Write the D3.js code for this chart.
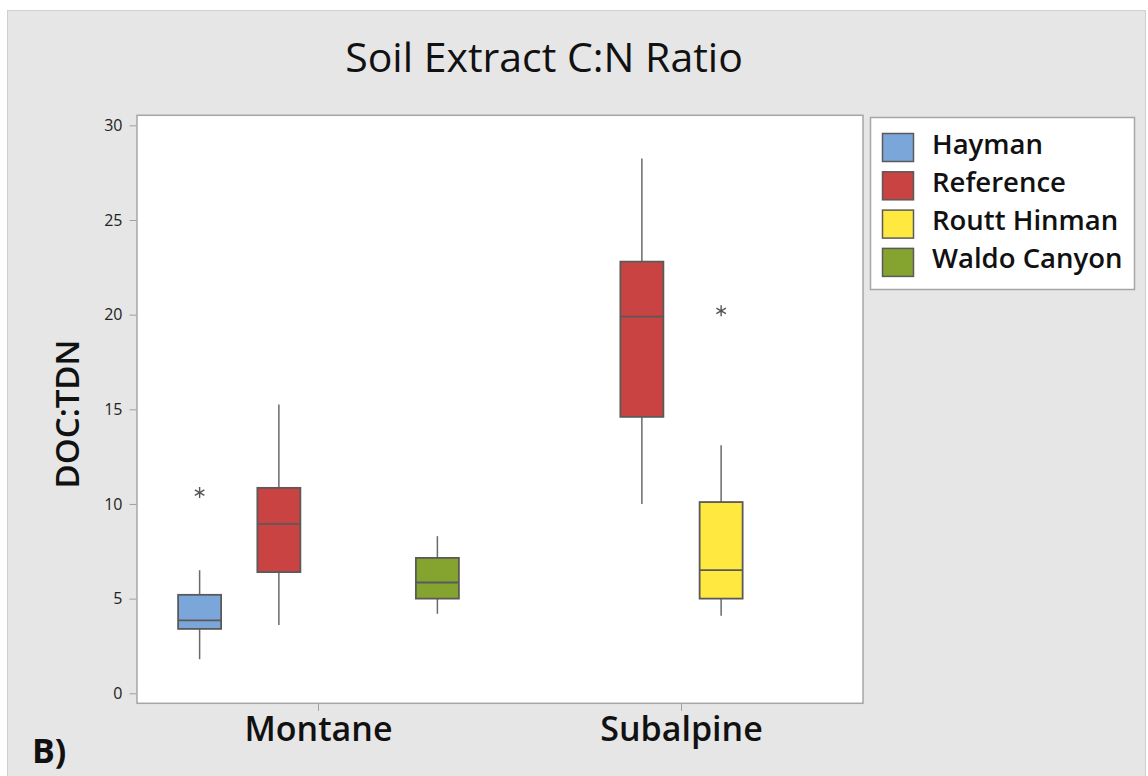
<!DOCTYPE html>
<html>
<head>
<meta charset="utf-8">
<script src="https://cdn.jsdelivr.net/npm/d3@7"></script>
<style>
body { margin: 0; background: #ffffff; }
</style>
</head>
<body>
<div id="chart"></div>
<script>
// data
var sites = ["Montane", "Subalpine"];
var series = ["Hayman", "Reference", "Routt Hinman", "Waldo Canyon"];
var seriesColor = ["#7ba6da", "#c94343", "#ffe840", "#84a32f"];
var yTicks = [0, 5, 10, 15, 20, 25, 30];

var boxSite = ["Montane", "Montane", "Montane", "Subalpine", "Subalpine"];
var boxSeries = ["Hayman", "Reference", "Waldo Canyon", "Reference", "Routt Hinman"];
var whiskerLow = [1.8, 3.6, 4.2, 10.0, 4.1];
var q1 = [3.4, 6.4, 5.0, 14.6, 5.0];
var median = [3.85, 8.95, 5.85, 19.9, 6.5];
var q3 = [5.2, 10.85, 7.15, 22.8, 10.1];
var whiskerHigh = [6.5, 15.25, 8.3, 28.25, 13.1];

var outlierSite = ["Montane", "Subalpine"];
var outlierSeries = ["Hayman", "Routt Hinman"];
var outlierValue = [10.6, 20.2];

var W = 1148, H = 776;
var pLeft = 137, pRight = 863, pTop = 115.3, pBottom = 703.3;
var fontMain = "'Open Sans', 'Noto Sans', sans-serif";
var lineC = "#5a5a5a";

var svg = d3.select("#chart")
    .append("svg")
    .attr("width", W)
    .attr("height", H);

// grey panel
svg.append("rect")
    .attr("x", 7.5)
    .attr("y", 10.5)
    .attr("width", 1138)
    .attr("height", 770)
    .attr("fill", "#e6e6e6")
    .attr("stroke", "#cfcfcf")
    .attr("stroke-width", 1);

var x = d3.scaleBand().domain(sites).range([pLeft, pRight]).padding(0);
var xs = d3.scalePoint().domain(series).range([0, x.bandwidth()]).padding(0.79);
var y = d3.scaleLinear().domain([-0.53, 30.53]).range([pBottom, pTop]);
var color = d3.scaleOrdinal().domain(series).range(seriesColor);
var boxW = 43;

// plot frame
svg.append("rect")
    .attr("x", pLeft)
    .attr("y", pTop)
    .attr("width", pRight - pLeft)
    .attr("height", pBottom - pTop)
    .attr("fill", "#ffffff")
    .attr("stroke", "#a6a6a6")
    .attr("stroke-width", 1.5);

// y axis
var yAxis = svg.append("g")
    .attr("transform", "translate(" + (pLeft - 0.5) + ",0)")
    .call(d3.axisLeft(y).tickValues(yTicks).tickSize(7).tickPadding(7));
yAxis.select(".domain").remove();
yAxis.selectAll("line").attr("stroke", "#a0a0a0");
yAxis.selectAll("text")
    .attr("font-family", fontMain)
    .attr("font-size", "16px")
    .attr("fill", "#222");

// x axis
var xAxis = svg.append("g")
    .attr("transform", "translate(0," + (pBottom + 0.5) + ")")
    .call(d3.axisBottom(x).tickSize(7).tickPadding(6));
xAxis.select(".domain").remove();
xAxis.selectAll("line").attr("stroke", "#a0a0a0");
xAxis.selectAll("text")
    .attr("font-family", fontMain)
    .attr("font-size", "34px")
    .attr("font-weight", 600)
    .attr("fill", "#111")
    .attr("dy", "0.72em");

// boxes
var boxes = boxSite.map(function (s, i) {
    return { site: s, series: boxSeries[i], lo: whiskerLow[i], q1: q1[i], med: median[i], q3: q3[i], hi: whiskerHigh[i] };
});
var g = svg.append("g");
boxes.forEach(function (d) {
    var cx = x(d.site) + xs(d.series);
    g.append("line")
        .attr("x1", cx).attr("x2", cx)
        .attr("y1", y(d.hi)).attr("y2", y(d.q3))
        .attr("stroke", "#6a6a6a").attr("stroke-width", 1.5);
    g.append("line")
        .attr("x1", cx).attr("x2", cx)
        .attr("y1", y(d.q1)).attr("y2", y(d.lo))
        .attr("stroke", "#6a6a6a").attr("stroke-width", 1.5);
    g.append("rect")
        .attr("x", cx - boxW / 2)
        .attr("y", y(d.q3))
        .attr("width", boxW)
        .attr("height", y(d.q1) - y(d.q3))
        .attr("fill", color(d.series))
        .attr("stroke", lineC)
        .attr("stroke-width", 1.8);
    g.append("line")
        .attr("x1", cx - boxW / 2).attr("x2", cx + boxW / 2)
        .attr("y1", y(d.med)).attr("y2", y(d.med))
        .attr("stroke", lineC).attr("stroke-width", 1.8);
});

// outliers
var star = d3.symbol().type(d3.symbolAsterisk).size(85);
outlierValue.forEach(function (v, i) {
    var cx = x(outlierSite[i]) + xs(outlierSeries[i]);
    g.append("path")
        .attr("d", star)
        .attr("transform", "translate(" + cx + "," + y(v) + ")")
        .attr("fill", "none")
        .attr("stroke", "#555")
        .attr("stroke-width", 1.4);
});

// title
svg.append("text")
    .attr("x", 544)
    .attr("y", 72)
    .attr("text-anchor", "middle")
    .attr("font-family", fontMain)
    .attr("font-size", "41px")
    .attr("fill", "#111")
    .text("Soil Extract C:N Ratio");

// y label
svg.append("text")
    .attr("transform", "translate(79,414) rotate(-90)")
    .attr("text-anchor", "middle")
    .attr("font-family", fontMain)
    .attr("font-size", "33px")
    .attr("font-weight", 600)
    .attr("fill", "#111")
    .text("DOC:TDN");

// legend
svg.append("rect")
    .attr("x", 870.5)
    .attr("y", 117.5)
    .attr("width", 264)
    .attr("height", 172)
    .attr("fill", "#ffffff")
    .attr("stroke", "#a6a6a6")
    .attr("stroke-width", 1.5);
series.forEach(function (s, i) {
    var ly = 133.5 + i * 38.3;
    svg.append("rect")
        .attr("x", 882.5)
        .attr("y", ly)
        .attr("width", 31)
        .attr("height", 28)
        .attr("fill", color(s))
        .attr("stroke", lineC)
        .attr("stroke-width", 1.5);
    svg.append("text")
        .attr("x", 932)
        .attr("y", ly + 20)
        .attr("font-family", fontMain)
        .attr("font-size", "27.5px")
        .attr("font-weight", 600)
        .attr("fill", "#111")
        .text(s);
});

// panel letter
svg.append("text")
    .attr("x", 32)
    .attr("y", 763)
    .attr("font-family", fontMain)
    .attr("font-size", "34px")
    .attr("font-weight", 700)
    .attr("fill", "#111")
    .text("B)");
</script>
</body>
</html>
